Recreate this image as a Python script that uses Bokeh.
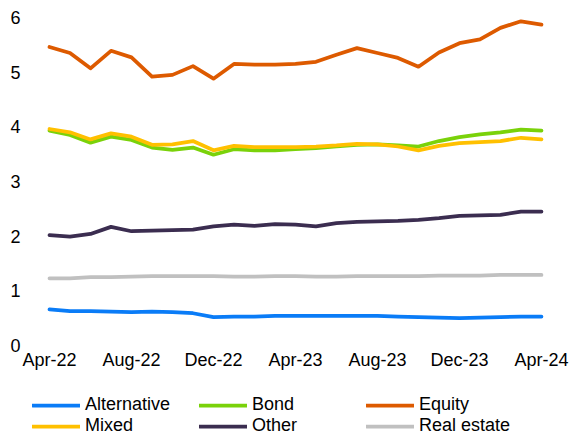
from bokeh.plotting import figure
from bokeh.layouts import column
from bokeh.models import Legend, LegendItem, FixedTicker, Range1d
from bokeh.embed import file_html
from bokeh.resources import INLINE

months = ["Apr-22", "May-22", "Jun-22", "Jul-22", "Aug-22", "Sep-22", "Oct-22", "Nov-22",
          "Dec-22", "Jan-23", "Feb-23", "Mar-23", "Apr-23", "May-23", "Jun-23", "Jul-23",
          "Aug-23", "Sep-23", "Oct-23", "Nov-23", "Dec-23", "Jan-24", "Feb-24", "Mar-24", "Apr-24"]
tick_labels = ["Apr-22", "Aug-22", "Dec-22", "Apr-23", "Aug-23", "Dec-23", "Apr-24"]

alternative = [0.66, 0.63, 0.63, 0.62, 0.61, 0.62, 0.61, 0.59, 0.52, 0.53, 0.53, 0.54, 0.54,
               0.54, 0.54, 0.54, 0.54, 0.53, 0.52, 0.51, 0.50, 0.51, 0.52, 0.53, 0.53]
bond = [3.93, 3.85, 3.71, 3.82, 3.76, 3.62, 3.58, 3.62, 3.49, 3.59, 3.57, 3.57, 3.59,
        3.61, 3.64, 3.67, 3.68, 3.66, 3.64, 3.74, 3.81, 3.86, 3.90, 3.95, 3.93]
equity = [5.46, 5.35, 5.07, 5.39, 5.27, 4.92, 4.95, 5.11, 4.88, 5.15, 5.14, 5.14, 5.15,
          5.19, 5.32, 5.44, 5.35, 5.26, 5.10, 5.36, 5.53, 5.60, 5.81, 5.93, 5.87]
mixed = [3.96, 3.90, 3.77, 3.88, 3.82, 3.67, 3.68, 3.74, 3.57, 3.65, 3.63, 3.63, 3.63,
         3.64, 3.66, 3.69, 3.68, 3.64, 3.57, 3.65, 3.70, 3.72, 3.74, 3.80, 3.77]
other = [2.02, 1.99, 2.04, 2.17, 2.09, 2.10, 2.11, 2.12, 2.18, 2.21, 2.19, 2.22, 2.21,
         2.18, 2.24, 2.26, 2.27, 2.28, 2.30, 2.33, 2.37, 2.38, 2.39, 2.45, 2.45]
real_estate = [1.23, 1.23, 1.25, 1.25, 1.26, 1.27, 1.27, 1.27, 1.27, 1.26, 1.26, 1.27, 1.27,
               1.26, 1.26, 1.27, 1.27, 1.27, 1.27, 1.28, 1.28, 1.28, 1.29, 1.29, 1.29]

series = [("Alternative", alternative, "#0A7CF7"),
          ("Bond", bond, "#7AD20A"),
          ("Equity", equity, "#DD5A00"),
          ("Mixed", mixed, "#FFC000"),
          ("Other", other, "#3B2D50"),
          ("Real estate", real_estate, "#C0C0C0")]

FONT = "Liberation Sans"
W = 569
LW = 3.75
x = list(range(len(months)))

# main chart
p1 = figure(width=W, height=390, output_backend="svg", toolbar_location=None,
            x_range=Range1d(-0.829, 24.88), y_range=Range1d(-0.055, 6.073),
            min_border_left=32, min_border_right=10, min_border_top=13, min_border_bottom=42)
p1.outline_line_color = None
p1.xgrid.visible = False
p1.ygrid.visible = False

for ax in (p1.xaxis[0], p1.yaxis[0]):
    ax.axis_line_color = None
    ax.major_tick_line_color = None
    ax.minor_tick_line_color = None
    ax.major_tick_out = 0
    ax.major_tick_in = 0
    ax.minor_tick_out = 0
    ax.minor_tick_in = 0
    ax.major_label_text_font = FONT
    ax.major_label_text_font_size = "18px"
    ax.major_label_text_color = "black"

tick_idx = [months.index(t) for t in tick_labels]
p1.xaxis[0].ticker = FixedTicker(ticks=tick_idx)
p1.xaxis[0].major_label_overrides = {i: t for i, t in zip(tick_idx, tick_labels)}
p1.xaxis[0].major_label_standoff = 1
p1.yaxis[0].ticker = FixedTicker(ticks=[0, 1, 2, 3, 4, 5, 6])
p1.yaxis[0].major_label_standoff = 12

for name, vals, color in series:
    p1.line(x, vals, line_color=color, line_width=LW, line_join="round", line_cap="round")

# legend strip (its lines lie outside its own view; only the legend shows)
p2 = figure(width=W, height=44, output_backend="svg", toolbar_location=None,
            x_axis_location=None, y_axis_location=None,
            x_range=Range1d(-20, -19), y_range=Range1d(-20, -19),
            min_border_left=32, min_border_right=10, min_border_top=4, min_border_bottom=0)
p2.outline_line_color = None
p2.xgrid.visible = False
p2.ygrid.visible = False

items = []
for name, vals, color in series:
    r = p2.line(x, vals, line_color=color, line_width=LW, line_cap="round")
    items.append(LegendItem(label=name, renderers=[r]))

legend = Legend(items=items, ncols=3, orientation="horizontal", location="top_left",
                glyph_width=48, glyph_height=20, label_height=20, label_width=114,
                label_standoff=5, spacing=0, padding=0, margin=0,
                border_line_alpha=0, background_fill_alpha=0,
                label_text_font=FONT, label_text_font_size="18px", label_text_color="black")
p2.add_layout(legend)

layout = column(p1, p2, spacing=0)
open("out.html", "w").write(file_html(layout, INLINE))
